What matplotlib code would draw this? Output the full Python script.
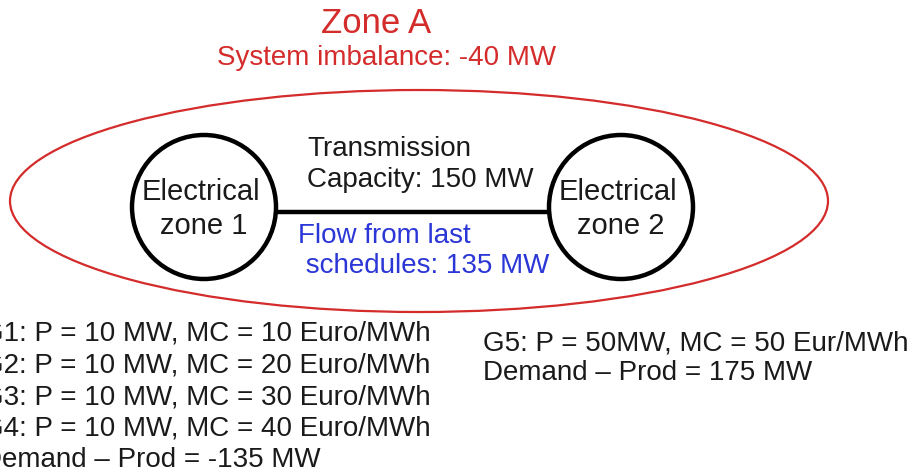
import matplotlib
matplotlib.use('Agg')
import matplotlib.pyplot as plt
from matplotlib.patches import Ellipse, Circle

plt.rcParams['font.family'] = ['Liberation Sans', 'DejaVu Sans']

# texts of the diagram
zone_title = 'Zone A'
zone_imbalance = 'System imbalance: -40 MW'
zone_labels = [('Electrical', 'zone 1'), ('Electrical', 'zone 2')]
line_capacity = ['Transmission', 'Capacity: 150 MW']
line_flow = ['Flow from last', ' schedules: 135 MW']
left_lines = ['G1: P = 10 MW, MC = 10 Euro/MWh',
              'G2: P = 10 MW, MC = 20 Euro/MWh',
              'G3: P = 10 MW, MC = 30 Euro/MWh',
              'G4: P = 10 MW, MC = 40 Euro/MWh',
              'Demand \u2013 Prod = -135 MW']
right_lines = ['G5: P = 50MW, MC = 50 Eur/MWh',
               'Demand \u2013 Prod = 175 MW']

red = '#d42b2b'
blue = '#2b36d6'
dark = '#1a1a1a'

fig = plt.figure(figsize=(9.15, 4.74), dpi=100)
ax = fig.add_axes([0, 0, 1, 1])
ax.set_xlim(0, 915)
ax.set_ylim(474, 0)
ax.axis('off')

# zone A outline
ax.add_patch(Ellipse((419, 201), 818, 222, fill=False, ec=red, lw=1.6))

# the two electrical zones and the line between them
centers = [(204, 207), (621, 207)]
for (cx, cy), (l1, l2) in zip(centers, zone_labels):
    ax.add_patch(Circle((cx, cy), 72, fill=False, ec='black', lw=3.2, zorder=3))
    ax.text(cx - 3, cy - 15, l1, ha='center', va='center', fontsize=21, color=dark, zorder=4)
    ax.text(cx, cy + 19, l2, ha='center', va='center', fontsize=21, color=dark, zorder=4)
ax.plot([centers[0][0] + 72, centers[1][0] - 72], [212, 212],
        color='black', lw=3.2, solid_capstyle='butt')

ax.text(376, 23, zone_title, ha='center', va='center', fontsize=25, color=red)
ax.text(387, 58, zone_imbalance, ha='center', va='center', fontsize=20, color=red)

ax.text(307, 149, line_capacity[0], ha='left', va='center', fontsize=20, color=dark)
ax.text(307, 180, line_capacity[1], ha='left', va='center', fontsize=20, color=dark)
ax.text(298, 236, line_flow[0], ha='left', va='center', fontsize=20, color=blue)
ax.text(298, 266, line_flow[1], ha='left', va='center', fontsize=20, color=blue)

# generator lists below the zone (left block runs off the left edge as in the source)
for i, s in enumerate(left_lines):
    ax.text(-18, 334 + i * 31.5, s, ha='left', va='center', fontsize=20, color=dark)
for i, s in enumerate(right_lines):
    ax.text(483, 343 + i * 30.5, s, ha='left', va='center', fontsize=20, color=dark)

fig.savefig('out.png', dpi=100)
